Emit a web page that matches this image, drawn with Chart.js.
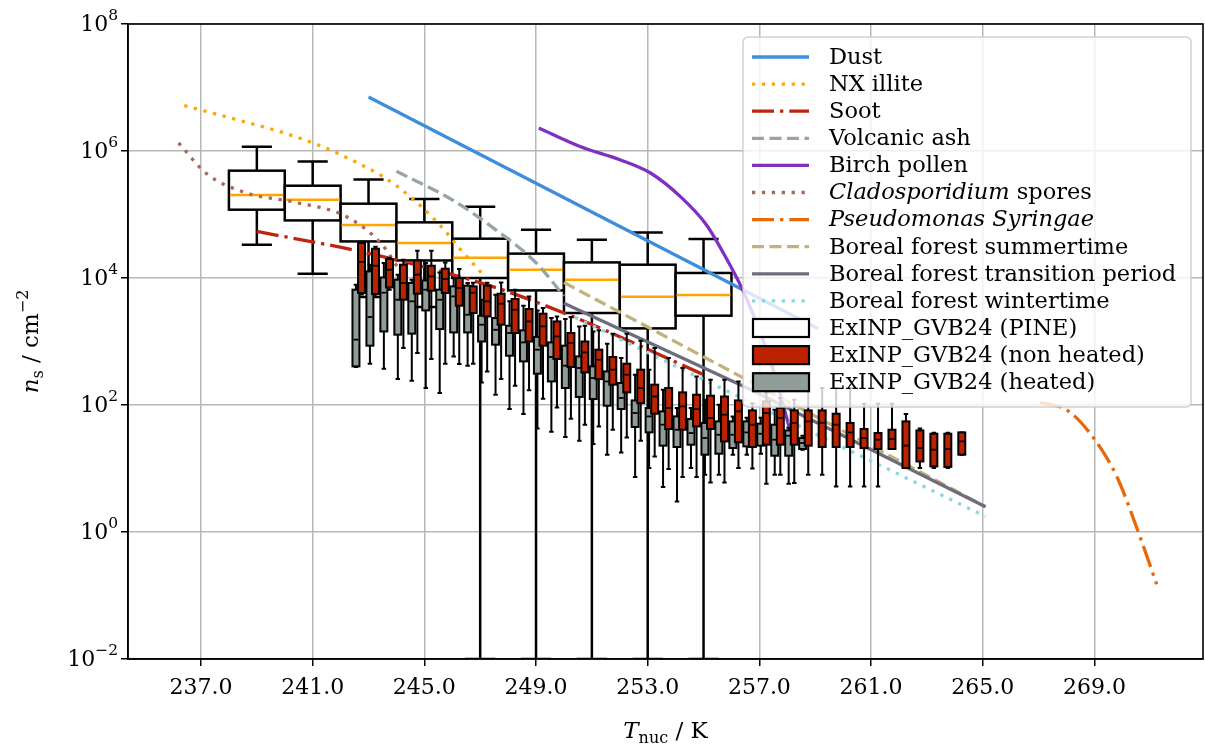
<!DOCTYPE html>
<html>
<head>
<meta charset="utf-8">
<script src="https://cdn.jsdelivr.net/npm/chart.js@4.4.1/dist/chart.umd.min.js"></script>
<style>
  html, body { margin: 0; padding: 0; background: #ffffff; }
  #wrap { width: 1205px; height: 747px; }
</style>
</head>
<body>
<div id="wrap"><canvas id="c" width="1205" height="747"></canvas></div>
<script>
// ---- axis ticks ----
const xTickValues = [237, 241, 245, 249, 253, 257, 261, 265, 269];
const xTickLabels = ['237.0', '241.0', '245.0', '249.0', '253.0', '257.0', '261.0', '265.0', '269.0'];
const yTickValues = [1e-2, 1, 1e2, 1e4, 1e6, 1e8];
const yTickBase = '10';
const yTickExponents = ['\u22122', '0', '2', '4', '6', '8'];

// ---- parameterisations (T in K, ns in cm^-2) ----
const DUST_T = [243.0, 259.1];
const DUST_NS = [7.1e6, 1.6e3];
const ILLITE_T = [236.4, 238.3, 240.1, 241.5, 242.6, 243.5, 244.5, 245.6, 246.3, 247.1];
const ILLITE_NS = [5.2e6, 3.1e6, 1.85e6, 1.1e6, 6.5e5, 4.0e5, 1.9e5, 6.5e4, 2.8e4, 1.13e4];
const SOOT_T = [239.0, 242.4, 245.1, 247.8, 250.7, 255.0];
const SOOT_NS = [5.4e4, 2.8e4, 1.45e4, 6.5e3, 2.1e3, 300];
const ASH_T = [244.0, 246.0, 247.5, 249.0, 250.0];
const ASH_NS = [4.8e5, 1.7e5, 6.0e4, 1.74e4, 5.2e3];
const BIRCH_T = [249.1, 250.6, 252.0, 253.1, 254.2, 255.1, 255.8, 256.4, 257.0, 257.5, 258.1];
const BIRCH_NS = [2.3e6, 1.17e6, 7.3e5, 4.5e5, 1.86e5, 6.9e4, 2.1e4, 6.5e3, 1.5e3, 355, 40];
const CLADO_T = [236.2, 237.2, 238.6, 240.4, 242.2, 243.5, 244.1];
const CLADO_NS = [1.34e6, 4.4e5, 2.2e5, 1.55e5, 9.3e4, 3.3e4, 1.35e4];
const PSEUDO_T = [267.05, 268.0, 268.84, 269.8, 270.63, 271.23];
const PSEUDO_NS = [109, 84, 36, 7.5, 0.85, 0.15];
const SUMMER_T = [250.0, 265.1];
const SUMMER_NS = [8.5e3, 2.5];
const TRANSITION_T = [250.0, 256.7, 265.1];
const TRANSITION_NS = [4.0e3, 174, 2.5];
const WINTER_T = [250.4, 265.1];
const WINTER_NS = [2.4e3, 1.76];

// ---- ExINP_GVB24 (PINE) box statistics ----
const PINE_T = [239, 241, 243, 245, 247, 249, 251, 253, 255];
const PINE_LOW = [3.34e4, 1.17e4, 5.0e3, 3.5e3, 0, 0, 0, 0, 0];
const PINE_Q1 = [1.19e5, 8.07e4, 3.77e4, 1.89e4, 1.0e4, 6.38e3, 2.81e3, 1.61e3, 2.55e3];
const PINE_MED = [2.03e5, 1.71e5, 6.84e4, 3.56e4, 2.09e4, 1.35e4, 9.4e3, 5.07e3, 5.4e3];
const PINE_Q3 = [4.9e5, 2.84e5, 1.48e5, 7.52e4, 4.16e4, 2.42e4, 1.76e4, 1.62e4, 1.2e4];
const PINE_HIGH = [1.17e6, 6.85e5, 3.57e5, 1.75e5, 1.33e5, 5.77e4, 4.01e4, 5.22e4, 4.11e4];

// ---- ExINP_GVB24 (heated) ----
const HEATED_T = [242.55, 243.05, 243.55, 244.05, 244.55, 245.05, 245.55, 246.05, 246.55, 247.05,
  247.55, 248.05, 248.55, 249.05, 249.55, 250.05, 250.55, 251.05, 251.55, 252.05,
  252.55, 253.05, 253.55, 254.05, 254.55, 255.05, 255.55, 256.05, 256.55, 257.05,
  257.55, 258.05, 258.55];
const HEATED_LOW = [398, 447, 373, 256, 242, 185, 155, 582, 416, 227, 145, 86.5, 72.1, 42.8, 37.9, 31.3, 27.4, 24.3, 16.5, 17.9,
  7.35, 10.2, 5.12, 3.03, 10.2, 7.98, 7.98, 16.5, 16.5, 17.1, 7.98, 5.75, 19.8];
const HEATED_Q1 = [406, 859, 1440, 1280, 1330, 3090, 1570, 1390, 1390, 1000, 891, 597, 486, 311, 235, 185, 134, 124, 97.5, 86.5,
  45.1, 37.1, 22.9, 21.8, 23.7, 16.5, 17.1, 21.0, 22.3, 22.9, 15.9, 15.9, 20.3];
const HEATED_MED = [1070, 2430, 5870, 4550, 4290, 6550, 4550, 5130, 2640, 1840, 1530, 1360, 968, 743, 570, 416, 383, 266, 235, 129,
  74.8, 66.1, 49.0, 40.8, 36.2, 30.2, 34.0, 34.0, 37.0, 35.3, 28.4, 32.8, 25.2];
const HEATED_Q3 = [6550, 12700, 10200, 9400, 8340, 9160, 6550, 7380, 7570, 2550, 2340, 1770, 1500, 1180, 968, 859, 582, 406, 338, 222,
  118, 89.7, 79.3, 66.1, 60.3, 52.1, 55.2, 55.2, 55.2, 50.8, 49.0, 39.8, 30.2];
const HEATED_HIGH = [7830, 16200, 17200, 11300, 9400, 17200, 12200, 10000, 8340, 4550, 5460, 4290, 3660, 3090, 2340, 2260, 1730, 1440, 923, 550,
  300, 360, 174, 89.7, 89.7, 121, 101, 66.1, 63.1, 63.1, 84.3, 43.9, 32.9];

// ---- ExINP_GVB24 (non heated) ----
const NONHEATED_T = [242.75, 243.25, 243.75, 244.25, 244.75, 245.25, 245.75, 246.25, 246.75, 247.25,
  247.75, 248.25, 248.75, 249.25, 249.75, 250.25, 250.75, 251.25, 251.75, 252.25,
  252.75, 253.25, 253.75, 254.25, 254.75, 255.25, 255.75, 256.25, 256.75, 257.25,
  257.75, 258.25, 258.75, 259.25, 259.75, 260.25, 260.75, 261.25, 261.75, 262.25,
  262.75, 263.25, 263.75, 264.25];
const NONHEATED_LOW = [5500, 5070, 6550, 791, 659, 530, 447, 443, 447, 338, 256, 201, 170, 126, 91.6, 60.8, 49.0, 46.0, 40.8, 30.9,
  27.4, 15.5, 9.82, 7.35, 7.35, 6.04, 6.04, 10.2, 10.0, 5.75, 7.98, 5.90, 7.98, 7.98, 5.22, 5.22, 5.22, 5.22, 20.3, 10.2,
  10.2, 10.2, 10.2, 16.5];
const NONHEATED_Q1 = [5810, 5600, 7110, 4550, 5660, 6310, 5810, 3660, 2810, 2480, 1840, 1360, 1000, 859, 530, 396, 326, 256, 209, 158,
  107, 72.9, 41.9, 40.8, 46.0, 41.9, 26.7, 25.8, 21.8, 23.7, 23.7, 23.7, 22.9, 21.8, 21.8, 21.8, 21.0, 20.3, 20.3, 10.2,
  12.9, 10.8, 10.6, 16.5];
const NONHEATED_MED = [17900, 15600, 13500, 8340, 11300, 10600, 9640, 6970, 5870, 4290, 3940, 3160, 2070, 1730, 1200, 946, 673, 516, 360, 300,
  185, 136, 89.7, 95.1, 86.5, 62.4, 70.3, 79.4, 49.0, 74.8, 62.4, 52.1, 55.2, 52.5, 49.0, 37.0, 30.2, 28.4, 29.2, 22.9,
  21.0, 19.8, 20.3, 26.7];
const NONHEATED_Q3 = [35600, 28900, 19900, 16200, 18900, 15600, 14000, 10000, 7380, 7570, 5660, 4670, 3250, 2740, 2070, 1360, 1000, 743, 570, 447,
  360, 209, 185, 158, 145, 140, 136, 118, 82.2, 114, 89.7, 82.2, 82.2, 82.2, 72.9, 52.1, 41.9, 36.2, 40.8, 55.2,
  39.8, 35.3, 35.3, 37.0];
const NONHEATED_HIGH = [36000, 31100, 20900, 19400, 26900, 26900, 17600, 13900, 8430, 8430, 8530, 6550, 5130, 3370, 2480, 2430, 1770, 1500, 1330, 1330,
  1030, 791, 550, 383, 282, 250, 250, 235, 107, 155, 129, 121, 174, 185, 185, 185, 105, 105, 105, 72.1,
  42.7, 36.6, 36.6, 37.0];

// ---- styling ----
const FONT = "'DejaVu Serif', 'Liberation Serif', serif";
const LW = 3.3;
const SOLID = [];
const DOTTED = [3.3, 6.6];
const DASHED = [12, 5.5];
const DASHDOT = [22, 6, 3.3, 6];

const lineSeries = [
  { label: 'Dust', t: DUST_T, ns: DUST_NS, color: '#3d8edb', dash: SOLID, smooth: false },
  { label: 'NX illite', t: ILLITE_T, ns: ILLITE_NS, color: '#ffa600', dash: DOTTED, smooth: true },
  { label: 'Soot', t: SOOT_T, ns: SOOT_NS, color: '#bf2412', dash: DASHDOT, smooth: true },
  { label: 'Volcanic ash', t: ASH_T, ns: ASH_NS, color: '#98a6a2', dash: DASHED, smooth: true },
  { label: 'Birch pollen', t: BIRCH_T, ns: BIRCH_NS, color: '#7f30c0', dash: SOLID, smooth: true },
  { label: 'Cladosporidium spores', italic: ['Cladosporidium'], t: CLADO_T, ns: CLADO_NS, color: '#a8685a', dash: DOTTED, smooth: true },
  { label: 'Pseudomonas Syringae', italic: ['Pseudomonas', 'Syringae'], t: PSEUDO_T, ns: PSEUDO_NS, color: '#e8680c', dash: DASHDOT, smooth: true },
  { label: 'Boreal forest summertime', t: SUMMER_T, ns: SUMMER_NS, color: '#c2b27c', dash: DASHED, smooth: false },
  { label: 'Boreal forest transition period', t: TRANSITION_T, ns: TRANSITION_NS, color: '#6c6e7e', dash: SOLID, smooth: false },
  { label: 'Boreal forest wintertime', t: WINTER_T, ns: WINTER_NS, color: '#8dd7da', dash: DOTTED, smooth: false }
];

const boxGroups = {
  pine: { label: 'ExINP_GVB24 (PINE)', t: PINE_T, lo: PINE_LOW, q1: PINE_Q1, med: PINE_MED, q3: PINE_Q3, hi: PINE_HIGH,
          width: 2.0, cap: 1.08, fill: '#ffffff', median: '#ffa500', lw: 2.5, mlw: 2.5 },
  heated: { label: 'ExINP_GVB24 (heated)', t: HEATED_T, lo: HEATED_LOW, q1: HEATED_Q1, med: HEATED_MED, q3: HEATED_Q3, hi: HEATED_HIGH,
          width: 0.25, cap: 0.16, fill: '#8f9c98', median: '#000000', lw: 2, mlw: 1.8 },
  nonHeated: { label: 'ExINP_GVB24 (non heated)', t: NONHEATED_T, lo: NONHEATED_LOW, q1: NONHEATED_Q1, med: NONHEATED_MED, q3: NONHEATED_Q3, hi: NONHEATED_HIGH,
          width: 0.25, cap: 0.16, fill: '#bd2200', median: '#000000', lw: 2, mlw: 1.8 }
};

function drawBoxGroup(chart, g) {
  const { ctx, chartArea: a, scales: { x, y } } = chart;
  ctx.save();
  ctx.beginPath();
  ctx.rect(a.left, a.top, a.right - a.left, a.bottom - a.top);
  ctx.clip();
  ctx.setLineDash([]);
  ctx.lineCap = 'butt';
  g.t.forEach((t, i) => {
    const cx = x.getPixelForValue(t);
    const hw = (x.getPixelForValue(t + g.width / 2) - x.getPixelForValue(t - g.width / 2)) / 2;
    const cw = (x.getPixelForValue(t + g.cap / 2) - x.getPixelForValue(t - g.cap / 2)) / 2;
    const pLo = y.getPixelForValue(g.lo[i]);
    const pQ1 = y.getPixelForValue(g.q1[i]);
    const pMed = y.getPixelForValue(g.med[i]);
    const pQ3 = y.getPixelForValue(g.q3[i]);
    const pHi = y.getPixelForValue(g.hi[i]);
    ctx.strokeStyle = '#000000';
    ctx.lineWidth = g.lw;
    ctx.beginPath();
    ctx.moveTo(cx, pQ1); ctx.lineTo(cx, pLo);
    ctx.moveTo(cx, pQ3); ctx.lineTo(cx, pHi);
    ctx.moveTo(cx - cw, pLo); ctx.lineTo(cx + cw, pLo);
    ctx.moveTo(cx - cw, pHi); ctx.lineTo(cx + cw, pHi);
    ctx.stroke();
    ctx.fillStyle = g.fill;
    ctx.fillRect(cx - hw, pQ3, 2 * hw, pQ1 - pQ3);
    ctx.strokeRect(cx - hw, pQ3, 2 * hw, pQ1 - pQ3);
    ctx.strokeStyle = g.median;
    ctx.lineWidth = g.mlw;
    ctx.beginPath();
    ctx.moveTo(cx - hw + 1, pMed); ctx.lineTo(cx + hw - 1, pMed);
    ctx.stroke();
  });
  ctx.restore();
}

function drawRich(ctx, x, y, parts) {
  let cx = x;
  parts.forEach(p => {
    ctx.font = p.font;
    ctx.fillText(p.text, cx, y + (p.dy || 0));
    cx += ctx.measureText(p.text).width;
  });
  return cx - x;
}
function richWidth(ctx, parts) {
  let w = 0;
  parts.forEach(p => { ctx.font = p.font; w += ctx.measureText(p.text).width; });
  return w;
}

function labelParts(label, italic, size) {
  const words = label.split(' ');
  const parts = [];
  words.forEach((w, k) => {
    const it = italic && italic.includes(w);
    parts.push({ text: w, font: (it ? 'italic ' : '') + size + 'px ' + FONT });
    if (k < words.length - 1) parts.push({ text: ' ', font: size + 'px ' + FONT });
  });
  return parts;
}

function drawYTickLabels(chart) {
  const { ctx, scales: { y }, chartArea: a } = chart;
  ctx.save();
  ctx.fillStyle = '#000';
  ctx.textBaseline = 'middle';
  yTickValues.forEach((v, i) => {
    const py = y.getPixelForValue(v);
    const parts = [
      { text: yTickBase, font: '22px ' + FONT, dy: 1 },
      { text: yTickExponents[i], font: '15.5px ' + FONT, dy: -8 }
    ];
    const w = richWidth(ctx, parts);
    drawRich(ctx, a.left - 10 - w, py, parts);
  });
  ctx.restore();
}

function drawLegend(chart) {
  const ctx = chart.ctx;
  const L = 743, T = 37, R = 1191, B = 407, rad = 5;
  ctx.save();
  ctx.beginPath();
  ctx.moveTo(L + rad, T);
  ctx.arcTo(R, T, R, B, rad);
  ctx.arcTo(R, B, L, B, rad);
  ctx.arcTo(L, B, L, T, rad);
  ctx.arcTo(L, T, R, T, rad);
  ctx.closePath();
  ctx.fillStyle = 'rgba(255,255,255,0.8)';
  ctx.fill();
  ctx.strokeStyle = 'rgba(204,204,204,0.9)';
  ctx.lineWidth = 1.5;
  ctx.stroke();

  const items = lineSeries.map(s => ({ kind: 'line', label: s.label, italic: s.italic, color: s.color, dash: s.dash }))
    .concat([boxGroups.pine, boxGroups.nonHeated, boxGroups.heated].map(g => ({ kind: 'box', label: g.label, fill: g.fill })));
  const x0 = 752, x1 = 809, tx = 829, y0 = 57, step = 27.1;
  ctx.textBaseline = 'middle';
  ctx.fillStyle = '#000';
  items.forEach((it, i) => {
    const yc = y0 + step * i;
    if (it.kind === 'line') {
      ctx.strokeStyle = it.color;
      ctx.lineWidth = LW;
      ctx.lineCap = 'butt';
      ctx.setLineDash(it.dash);
      ctx.beginPath();
      ctx.moveTo(x0, yc); ctx.lineTo(x1, yc);
      ctx.stroke();
    } else {
      ctx.setLineDash([]);
      ctx.fillStyle = it.fill;
      ctx.fillRect(x0 + 1, yc - 9, x1 - x0 - 1, 18);
      ctx.strokeStyle = '#000';
      ctx.lineWidth = 2.2;
      ctx.strokeRect(x0 + 1, yc - 9, x1 - x0 - 1, 18);
    }
    ctx.fillStyle = '#000';
    drawRich(ctx, tx, yc + 1, labelParts(it.label, it.italic, 22.5));
  });
  ctx.restore();
}

function drawTitles(chart) {
  const ctx = chart.ctx;
  const a = chart.chartArea;
  ctx.save();
  ctx.fillStyle = '#000';
  ctx.textBaseline = 'alphabetic';
  // x title: T_nuc / K
  const xParts = [
    { text: 'T', font: 'italic 23px ' + FONT },
    { text: 'nuc', font: '16px ' + FONT, dy: 5 },
    { text: ' / K', font: '23px ' + FONT }
  ];
  const xw = richWidth(ctx, xParts);
  drawRich(ctx, (a.left + a.right) / 2 - xw / 2, 738, xParts);
  // y title: n_s / cm^-2
  const yParts = [
    { text: 'n', font: 'italic 23px ' + FONT },
    { text: 's', font: '16px ' + FONT, dy: 5 },
    { text: ' / cm', font: '23px ' + FONT },
    { text: '\u22122', font: '16px ' + FONT, dy: -10 }
  ];
  const yw = richWidth(ctx, yParts);
  ctx.translate(38, (a.top + a.bottom) / 2);
  ctx.rotate(-Math.PI / 2);
  drawRich(ctx, -yw / 2, 0, yParts);
  ctx.restore();
}

const boxPlugin = {
  id: 'boxesAndDecor',
  beforeDatasetsDraw(chart) {
    drawBoxGroup(chart, boxGroups.pine);
  },
  afterDatasetsDraw(chart) {
    drawBoxGroup(chart, boxGroups.heated);
    drawBoxGroup(chart, boxGroups.nonHeated);
    const { ctx, chartArea: a } = chart;
    ctx.save();
    ctx.strokeStyle = '#000';
    ctx.lineWidth = 1.6;
    ctx.setLineDash([]);
    ctx.strokeRect(a.left, a.top, a.right - a.left, a.bottom - a.top);
    ctx.restore();
  },
  afterDraw(chart) {
    drawYTickLabels(chart);
    drawLegend(chart);
    drawTitles(chart);
  }
};

const datasets = lineSeries.map((s, i) => ({
  label: s.label,
  data: s.t.map((t, k) => ({ x: t, y: s.ns[k] })),
  showLine: true,
  borderColor: s.color,
  backgroundColor: s.color,
  borderWidth: LW,
  borderDash: s.dash,
  borderCapStyle: 'butt',
  pointRadius: 0,
  pointHoverRadius: 0,
  fill: false,
  cubicInterpolationMode: s.smooth ? 'monotone' : 'default',
  tension: 0,
  clip: 0,
  order: -i
}));

new Chart(document.getElementById('c'), {
  type: 'scatter',
  data: { datasets },
  options: {
    responsive: false,
    animation: false,
    devicePixelRatio: 1,
    layout: { padding: { top: 24, right: 2, left: 0, bottom: 0 } },
    plugins: { legend: { display: false }, tooltip: { enabled: false } },
    scales: {
      x: {
        type: 'linear',
        min: 234.385,
        max: 272.89,
        afterBuildTicks: s => { s.ticks = xTickValues.map(v => ({ value: v })); },
        afterFit: s => { s.height = 88; },
        ticks: {
          callback: (v, i) => xTickLabels[i],
          font: { family: FONT, size: 22 },
          color: '#000',
          padding: 9,
          maxRotation: 0,
          autoSkip: false
        },
        grid: { color: '#b8b8b8', lineWidth: 1.5, tickColor: '#000', tickLength: 7, tickWidth: 1.5 },
        border: { display: true, color: '#000', width: 1.6 }
      },
      y: {
        type: 'logarithmic',
        min: 1e-2,
        max: 1e8,
        afterBuildTicks: s => { s.ticks = yTickValues.map(v => ({ value: v })); },
        afterFit: s => { s.width = 128; },
        ticks: { display: false },
        grid: { color: '#b8b8b8', lineWidth: 1.5, tickColor: '#000', tickLength: 7, tickWidth: 1.5 },
        border: { display: true, color: '#000', width: 1.6 }
      }
    }
  },
  plugins: [boxPlugin]
});
</script>
</body>
</html>
